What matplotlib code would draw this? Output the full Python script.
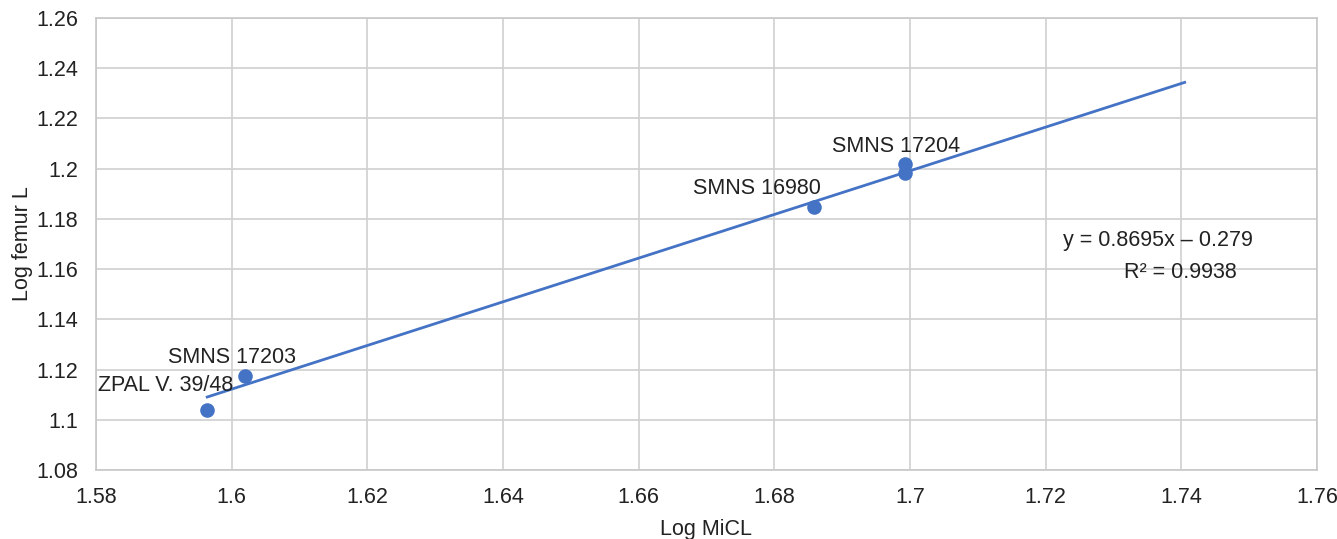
import matplotlib.pyplot as plt
import numpy as np

plt.rcParams['font.family'] = ['Liberation Sans', 'DejaVu Sans']

# specimens, log MiCL vs log femur length
names = ['ZPAL V. 39/48', 'SMNS 17203', 'SMNS 16980', 'SMNS 17204', '']
log_micl = [1.5964, 1.6020, 1.6858, 1.6992, 1.6992]
log_femur = [1.1039, 1.1174, 1.1847, 1.2019, 1.1983]

slope = 0.8695
intercept = -0.279
r2 = 0.9938
fit_x = [1.5964, 1.7405]

blue = '#4472C4'
fs = 15.5

fig = plt.figure(figsize=(13.37, 5.39), dpi=100)
ax = fig.add_axes([0.0718, 0.128, 0.9132, 0.8386])

ax.scatter(log_micl, log_femur, s=110, color=blue, zorder=3, linewidths=0)
fx = np.array(fit_x)
ax.plot(fx, slope * fx + intercept, color=blue, lw=2, zorder=2)

label_pos = [(1.5902, 1.1135), (1.6001, 1.1250), (1.6775, 1.1923), (1.6979, 1.2090)]
for name, (lx, ly) in zip(names, label_pos):
    ax.text(lx, ly, name, ha='center', va='center', fontsize=fs, color='#222222')

ax.text(1.7365, 1.1712, 'y = %.4fx \u2013 %.3f' % (slope, -intercept),
        ha='center', va='center', fontsize=fs, color='#222222')
ax.text(1.7398, 1.1585, 'R\u00b2 = %.4f' % r2,
        ha='center', va='center', fontsize=fs, color='#222222')

ax.set_xlim(1.58, 1.76)
ax.set_ylim(1.08, 1.26)
xt = np.arange(1.58, 1.7601, 0.02)
yt = np.arange(1.08, 1.2601, 0.02)
ax.set_xticks(xt)
ax.set_yticks(yt)
ax.set_xticklabels(['%g' % round(v, 2) for v in xt])
ax.set_yticklabels(['%g' % round(v, 2) for v in yt])
ax.tick_params(axis='x', length=0, labelsize=fs, colors='#222222', pad=12)
ax.tick_params(axis='y', length=0, labelsize=fs, colors='#222222', pad=13)
ax.grid(True, color='#d0d0d0', lw=1.2)
ax.set_axisbelow(True)
for s in ax.spines.values():
    s.set_color('#c8c8c8')
    s.set_linewidth(1.2)

ax.set_xlabel('Log MiCL', fontsize=fs, color='#222222', labelpad=8)
ax.set_ylabel('Log femur L', fontsize=fs, color='#222222', labelpad=2)

plt.savefig('out.png')
